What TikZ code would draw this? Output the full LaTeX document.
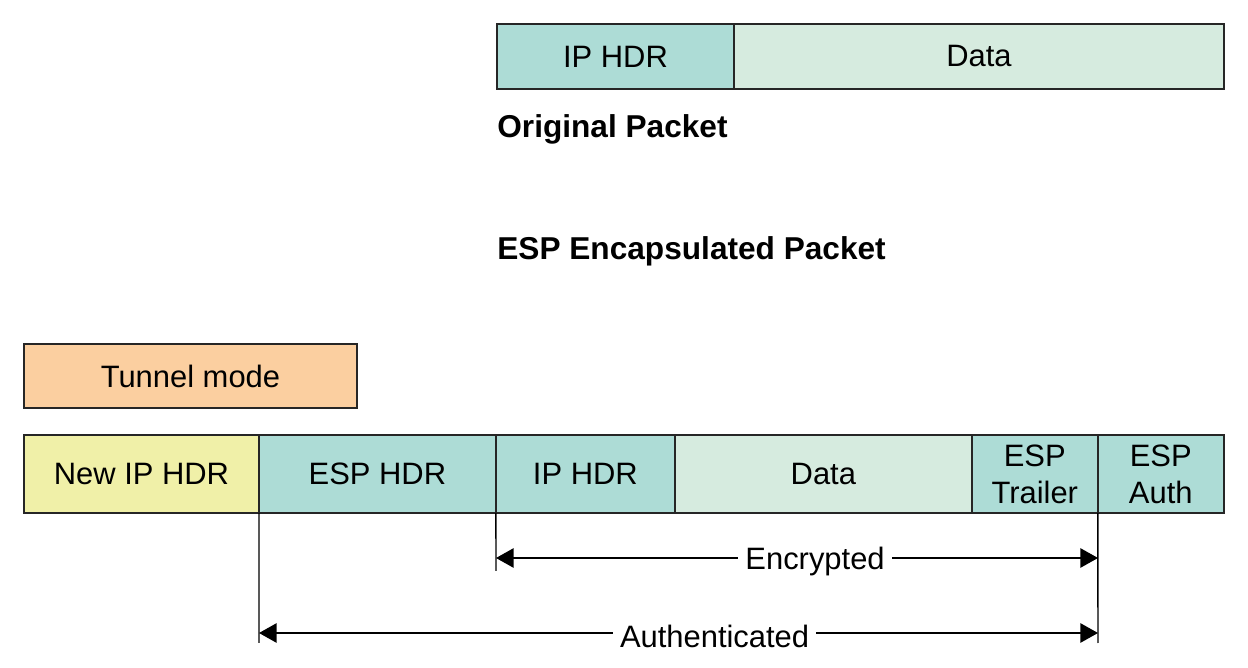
\documentclass[tikz,border=0pt]{standalone}
\usepackage{fontspec}
\setmainfont{Liberation Sans}
\usetikzlibrary{arrows.meta,positioning}
\definecolor{hdrteal}{HTML}{ADDCD6}
\definecolor{datagreen}{HTML}{D6EBDF}
\definecolor{newyellow}{HTML}{F0F0A8}
\definecolor{modeorange}{HTML}{FBCFA0}
\begin{document}
\begin{tikzpicture}[x=0.02cm,y=-0.02cm,field/.style={draw=black!85,line width=1.1pt,inner sep=0pt,outer sep=0pt,align=center,font=\fontsize{17.6}{20}\selectfont},toprow/.style={field,minimum height=1.3cm},botrow/.style={field,minimum height=1.56cm},caption/.style={anchor=west,inner sep=0pt,font=\fontsize{18}{20}\selectfont\bfseries},dim/.style={line width=0.8pt,{Triangle[length=10pt,width=11pt]}-{Triangle[length=10pt,width=11pt]}},guide/.style={line width=0.8pt},spanlabel/.style={fill=white,inner sep=4pt,yshift=-2pt,font=\fontsize{17.6}{20}\selectfont}]
\useasboundingbox (0,0) rectangle (1248,668);
% original packet
\node[toprow,fill=hdrteal,minimum width=4.74cm,anchor=north west] (iphdr) at (497,24) {IP HDR};
\node[toprow,fill=datagreen,minimum width=9.8cm,right=0pt of iphdr] (data) {Data};
\node[caption] (orig) at (497,129) {Original Packet};
\node[caption] (esp) at (497,251) {ESP Encapsulated Packet};
% tunnel mode
\node[field,fill=modeorange,minimum width=6.66cm,minimum height=1.28cm,anchor=north west] (tunnel) at (24,344) {Tunnel mode};
\node[botrow,fill=newyellow,minimum width=4.7cm,anchor=north west] (newip) at (24,435) {New IP HDR};
\node[botrow,fill=hdrteal,minimum width=4.74cm,right=0pt of newip] (esphdr) {ESP HDR};
\node[botrow,fill=hdrteal,minimum width=3.58cm,right=0pt of esphdr] (iphdr2) {IP HDR};
\node[botrow,fill=datagreen,minimum width=5.94cm,right=0pt of iphdr2] (data2) {Data};
\node[botrow,fill=hdrteal,minimum width=2.52cm,right=0pt of data2] (trailer) {ESP\\[1pt]Trailer};
\node[botrow,fill=hdrteal,minimum width=2.52cm,right=0pt of trailer] (auth) {ESP\\[1pt]Auth};
% guides and spans
\coordinate (encL) at (496,571);
\coordinate (authL) at (259,643);
\coordinate (authR) at (1098,643);
\draw[guide] (esphdr.south west) -- (authL);
\draw[guide] (iphdr2.south west) -- (encL);
\draw[guide] (auth.south west) -- (authR);
\draw[dim] (496,558) -- node[pos=0.53,spanlabel] (enc) {Encrypted} (1098,558);
\draw[dim] (259,633) -- node[pos=0.543,spanlabel] (authd) {Authenticated} (1098,633);
\end{tikzpicture}
\end{document}
